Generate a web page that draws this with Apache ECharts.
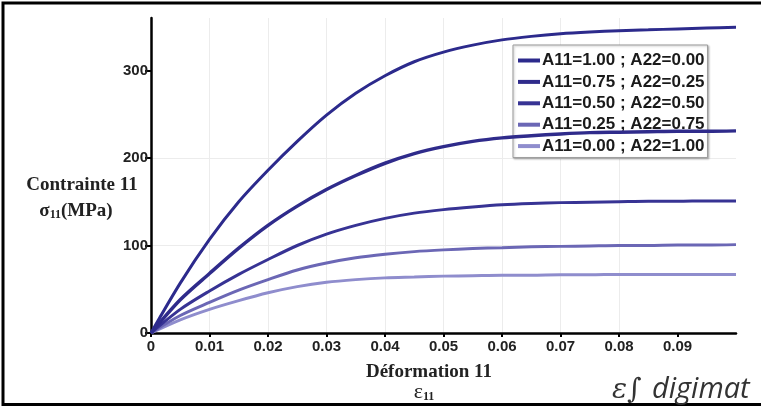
<!DOCTYPE html>
<html>
<head>
<meta charset="utf-8">
<script src="https://cdn.jsdelivr.net/npm/echarts@6/dist/echarts.min.js"></script>
<style>
  html, body { margin: 0; padding: 0; background: #fff; }
  #chart { width: 761px; height: 412px; }
</style>
</head>
<body>
<div id="chart"></div>
<script>
// Strain values (epsilon 11) shared by all curves
const strain = [0, 0.005, 0.01, 0.015, 0.02, 0.025, 0.03, 0.035, 0.04, 0.045, 0.05,
                0.055, 0.06, 0.065, 0.07, 0.075, 0.08, 0.085, 0.09, 0.095, 0.1];

// Stress sigma 11 (MPa) for each orientation tensor case
const a100 = [0, 57, 107, 150, 186, 219, 249, 274, 294, 310, 321, 329, 335, 339, 342, 344, 345.5, 346.5, 347.5, 348.5, 349.5];
const a075 = [0, 38, 68, 97, 123, 145, 164, 180, 194, 205, 213, 219, 223, 225.5, 227.5, 229, 229.5, 230, 230.5, 230.5, 231];
const a050 = [0, 27, 48, 67, 84, 100, 113, 123, 131, 137, 141, 144, 146.5, 148, 149, 149.5, 150, 150.5, 150.5, 151, 151];
const a025 = [0, 20, 35, 49, 61, 72, 80, 86, 90, 93, 95, 96.5, 97.5, 98.5, 99, 99.5, 100, 100, 100.5, 100.5, 101];
const a000 = [0, 15, 27, 37, 46, 53, 58, 61, 63, 64, 65, 65.5, 66, 66, 66.5, 66.5, 67, 67, 67, 67, 67];

const seriesNames = [
  'A11=1.00 ; A22=0.00',
  'A11=0.75 ; A22=0.25',
  'A11=0.50 ; A22=0.50',
  'A11=0.25 ; A22=0.75',
  'A11=0.00 ; A22=1.00'
];
const seriesValues = [a100, a075, a050, a025, a000];
const seriesColors = ['#2c2a8c', '#2f2b8b', '#373394', '#6b67b5', '#8f8dcd'];
const seriesWidths = [3, 3.5, 3, 3, 3];

const xTicks = [0, 0.01, 0.02, 0.03, 0.04, 0.05, 0.06, 0.07, 0.08, 0.09];
const yTicks = [0, 100, 200, 300];

const chart = echarts.init(document.getElementById('chart'));

const series = seriesNames.map((name, i) => ({
  name: name,
  type: 'line',
  smooth: 0.3,
  showSymbol: false,
  symbol: 'none',
  data: strain.map((x, j) => [x, seriesValues[i][j]]),
  lineStyle: { color: seriesColors[i], width: seriesWidths[i] },
  itemStyle: { color: seriesColors[i] },
  z: 5 - i
}));

const tickFont = { fontFamily: 'Liberation Sans', fontWeight: 'bold', fontSize: 15, color: '#222' };

chart.setOption({
  backgroundColor: '#fff',
  animation: false,
  grid: { left: 151, right: 25, top: 18, bottom: 79 },
  xAxis: {
    type: 'value',
    min: 0,
    max: 0.1,
    interval: 0.01,
    axisLine: { lineStyle: { color: '#000', width: 2.5 } },
    axisTick: { show: true, length: 4, lineStyle: { color: '#000', width: 2 }, customValues: xTicks },
    axisLabel: Object.assign({
      margin: 6,
      customValues: xTicks,
      formatter: v => (v === 0 ? '0' : (+v).toFixed(2))
    }, tickFont),
    splitLine: { show: true, showMinLine: false, showMaxLine: false, lineStyle: { color: '#ececec', width: 1 } }
  },
  yAxis: {
    type: 'value',
    min: 0,
    max: 360,
    interval: 100,
    axisLine: { show: true, lineStyle: { color: '#000', width: 2.5 } },
    axisTick: { show: true, length: 6, lineStyle: { color: '#000', width: 2 }, customValues: yTicks },
    axisLabel: Object.assign({ margin: 3, customValues: yTicks }, tickFont),
    splitLine: { show: true, showMinLine: false, showMaxLine: false, lineStyle: { color: '#ececec', width: 1 } }
  },
  legend: {
    orient: 'vertical',
    left: 513,
    top: 45,
    padding: [7, 3, 3, 5],
    itemGap: 4.4,
    itemWidth: 22,
    itemHeight: 4,
    icon: 'rect',
    backgroundColor: '#fff',
    borderColor: '#9a9a9a',
    borderWidth: 1,
    shadowColor: 'rgba(0,0,0,0.25)',
    shadowBlur: 2,
    shadowOffsetX: 1,
    shadowOffsetY: 1,
    textStyle: { fontFamily: 'Liberation Sans', fontWeight: 'bold', fontSize: 17, color: '#1a1a1a', padding: [0, 0, 0, -3] },
    data: seriesNames
  },
  graphic: [
    // outer frame
    {
      type: 'rect',
      shape: { x: 3, y: 3, width: 800, height: 401.5 },
      style: { fill: 'none', stroke: '#000', lineWidth: 3 },
      silent: true
    },
    // y axis title
    {
      type: 'text',
      x: 82, y: 185,
      style: {
        text: 'Contrainte 11',
        font: 'bold 19px "Liberation Serif"',
        fill: '#222',
        align: 'center',
        verticalAlign: 'middle'
      }
    },
    {
      type: 'text',
      x: 76, y: 211,
      style: {
        text: '{a|σ}{s|11}{a|(MPa)}',
        align: 'center',
        verticalAlign: 'middle',
        rich: {
          a: { font: 'bold 19px "Liberation Serif"', fill: '#222' },
          s: { font: 'bold 12px "Liberation Serif"', fill: '#222', padding: [8, 0, 0, 0] }
        }
      }
    },
    // x axis title
    {
      type: 'text',
      x: 429, y: 372,
      style: {
        text: 'Déformation 11',
        font: 'bold 19px "Liberation Serif"',
        fill: '#222',
        align: 'center',
        verticalAlign: 'middle'
      }
    },
    {
      type: 'text',
      x: 424, y: 392,
      style: {
        text: '{a|ε}{s|11}',
        align: 'center',
        verticalAlign: 'middle',
        rich: {
          a: { font: '22px "Liberation Serif"', fill: '#222' },
          s: { font: 'bold 12px "Liberation Serif"', fill: '#222', padding: [9, 0, 0, 0] }
        }
      }
    },
    // software logo
    {
      type: 'text',
      x: 612, y: 391,
      style: {
        text: 'ɛ∫',
        font: 'italic 28px "DejaVu Serif"',
        fill: '#333',
        align: 'left',
        verticalAlign: 'middle'
      }
    },
    {
      type: 'text',
      x: 652, y: 390,
      style: {
        text: 'digimat',
        font: 'italic 29px "Open Sans"',
        fill: '#333',
        align: 'left',
        verticalAlign: 'middle'
      }
    }
  ],
  series: series
});
</script>
</body>
</html>
